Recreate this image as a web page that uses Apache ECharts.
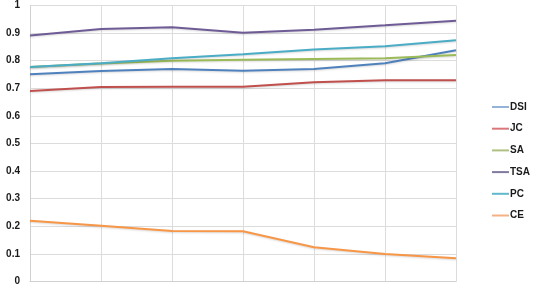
<!DOCTYPE html>
<html><head><meta charset="utf-8">
<script src="https://cdn.jsdelivr.net/npm/echarts@6/dist/echarts.min.js"></script>
<style>html,body{margin:0;padding:0;background:#fff}#c{width:536px;height:289px}</style>
</head><body><div id="c"></div>
<script>
const categories = ['1','2','3','4','5','6','7'];
const seriesNames = ['DSI','JC','SA','TSA','PC','CE'];
const DSI = [0.751, 0.763, 0.770, 0.764, 0.770, 0.791, 0.838];
const JC  = [0.690, 0.705, 0.706, 0.706, 0.722, 0.729, 0.729];
const SA  = [0.777, 0.790, 0.800, 0.803, 0.806, 0.809, 0.821];
const TSA = [0.891, 0.915, 0.921, 0.901, 0.912, 0.928, 0.945];
const PC  = [0.777, 0.791, 0.809, 0.823, 0.841, 0.852, 0.874];
const CE  = [0.220, 0.202, 0.183, 0.182, 0.124, 0.100, 0.084];
const values = [DSI, JC, SA, TSA, PC, CE];
const colors = ['#4F81BD','#C0504D','#9BBB59','#6F5C96','#4BACC6','#F79646'];
const legendColors = ['#95B3D7','#D9777A','#B0C080','#7F7AA0','#5FB8CC','#F4B183'];

const chart = echarts.init(document.getElementById('c'), null, {renderer:'canvas'});
chart.setOption({
  animation: false,
  backgroundColor: '#fff',
  grid: {left: 30, right: 80, top: 5.5, bottom: 7.5, containLabel: false},
  xAxis: {
    type: 'category', data: categories, boundaryGap: false,
    axisLine: {lineStyle: {color: '#d0d0d0', width: 1}},
    axisTick: {show: false},
    axisLabel: {show: false},
    splitLine: {show: true, lineStyle: {color: '#dcdcdc', width: 1}}
  },
  yAxis: {
    type: 'value', min: 0, max: 1, interval: 0.1,
    axisLine: {show: true, lineStyle: {color: '#d0d0d0'}},
    axisTick: {show: false},
    axisLabel: {color: '#1a1a1a', fontFamily: 'Liberation Sans, Arial', fontWeight: 'bold', fontSize: 10, margin: 10},
    splitLine: {lineStyle: {color: '#dcdcdc', width: 1}}
  },
  legend: {
    orient: 'vertical', left: 487, top: 95,
    itemWidth: 17, itemHeight: 2, itemGap: 7.7, icon: 'rect',
    textStyle: {color: '#1a1a1a', fontFamily: 'Liberation Sans, Arial', fontWeight: 'bold', fontSize: 10, lineHeight: 14, padding: [0,0,0,-4]},
    data: seriesNames.map((n, i) => ({name: n, itemStyle: {color: legendColors[i]}}))
  },
  series: seriesNames.map((n, i) => ({
    name: n, type: 'line', data: values[i], symbol: 'none',
    lineStyle: {color: colors[i], width: 2, shadowColor: 'rgba(0,0,0,0.15)', shadowBlur: 2, shadowOffsetY: 1},
    itemStyle: {color: colors[i]}
  }))
});
</script></body></html>
